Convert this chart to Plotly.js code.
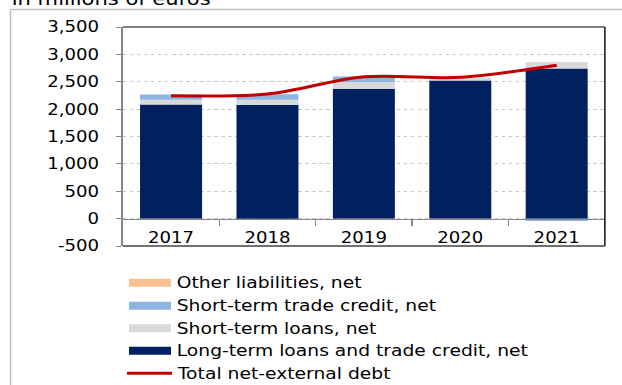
<!DOCTYPE html>
<html>
<head>
<meta charset="utf-8">
<script src="https://cdn.plot.ly/plotly-3.0.1.min.js"></script>
<style>
  html, body { margin:0; padding:0; overflow:hidden; background:#fff; }
  #chart { width:532px; height:385px; transform: scaleX(1.17); transform-origin: 0 0; }
</style>
</head>
<body>
<div id="chart"></div>
<script>
// ---- data ----
const years = ["2017", "2018", "2019", "2020", "2021"];
const longTerm = [2085, 2075, 2370, 2525, 2740];
const shortLoans = [85, 95, 125, 50, 120];
const tradeCredit = [95, 100, 100, 0, -45];
const otherLiab = [-15, 0, -15, -15, 0];
const totalDebt = [2245, 2275, 2590, 2580, 2800];
const yTickVals = [-500, 0, 500, 1000, 1500, 2000, 2500, 3000, 3500];
const yTickText = ["-500", "0", "500", "1,000", "1,500", "2,000", "2,500", "3,000", "3,500"];
const legendLabels = ["Other liabilities, net", "Short-term trade credit, net", "Short-term loans, net", "Long-term loans and trade credit, net", "Total net-external debt"];

const C = {navy:"#002060", grey:"#D9D9D9", blue:"#8DB4E2", orange:"#FAC090", red:"#C00000"};
const FONT = "DejaVu Sans";

const traces = [
  {type:"bar", x:years, y:longTerm, marker:{color:C.navy}, showlegend:false, hoverinfo:"skip"},
  {type:"bar", x:years, y:shortLoans, marker:{color:C.grey}, showlegend:false, hoverinfo:"skip"},
  {type:"bar", x:years, y:tradeCredit, marker:{color:C.blue}, showlegend:false, hoverinfo:"skip"},
  {type:"bar", x:years, y:otherLiab, marker:{color:C.orange}, showlegend:false, hoverinfo:"skip"},
  {type:"scatter", mode:"lines", x:years, y:totalDebt, line:{color:C.red, width:3, shape:"spline", smoothing:0.9}, showlegend:false, hoverinfo:"skip"}
];

// pixel -> paper helpers (S = horizontal stretch)
const S = 1.17, ML = 105, PW = 412, PT = 27, PH = 219;
const px = a => (a / S - ML) / PW;
const py = b => (PT + PH - b) / PH;

const shapes = [];
const annotations = [];
// outer frame
shapes.push({type:"line", xref:"paper", yref:"paper", x0:px(10), x1:px(640), y0:py(9.5), y1:py(9.5), line:{color:"#BFBFBF", width:1.5}});
shapes.push({type:"line", xref:"paper", yref:"paper", x0:px(10.5), x1:px(10.5), y0:py(9.5), y1:py(400), line:{color:"#BFBFBF", width:1.3}});
// plot box
shapes.push({type:"line", xref:"paper", yref:"paper", x0:0, x1:1, y0:1, y1:1, line:{color:"#595959", width:1.5}});
shapes.push({type:"line", xref:"paper", yref:"paper", x0:1, x1:1, y0:0, y1:1, line:{color:"#000000", width:1.2}});
shapes.push({type:"line", xref:"paper", yref:"paper", x0:0, x1:1, y0:0, y1:0, line:{color:"#404040", width:1.5}});

// legend (manual)
const rowsY = [282.7, 305.7, 328.3, 350.7, 373.3];
const swatchColors = [C.orange, C.blue, C.grey, C.navy];
swatchColors.forEach((col, i) => {
  shapes.push({type:"rect", xref:"paper", yref:"paper", x0:px(129), x1:px(171), y0:py(rowsY[i]-4), y1:py(rowsY[i]+4), fillcolor:col, line:{width:0}});
});
shapes.push({type:"line", xref:"paper", yref:"paper", x0:px(127), x1:px(172), y0:py(rowsY[4]), y1:py(rowsY[4]), line:{color:C.red, width:3}});
legendLabels.forEach((t, i) => {
  annotations.push({xref:"paper", yref:"paper", x:px(174), y:py(rowsY[i]), xanchor:"left", yanchor:"middle", text:t, showarrow:false, font:{family:FONT, size:16, color:"#000"}});
});
// title
annotations.push({xref:"paper", yref:"paper", x:px(9), y:py(-1.5), xanchor:"left", yanchor:"middle", text:"in millions of euros", showarrow:false, font:{family:FONT, size:18, color:"#000"}});

const layout = {
  width:532, height:385,
  margin:{l:ML, r:532-ML-PW, t:PT, b:385-PT-PH, pad:0},
  paper_bgcolor:"#fff", plot_bgcolor:"#fff",
  barmode:"relative", bargap:0.357,
  font:{family:FONT, size:15.5, color:"#000"},
  showlegend:false,
  xaxis:{type:"category", range:[-0.5, 4.5], anchor:"free", position:0.125,
    showline:true, linecolor:"#888", linewidth:1.2, ticks:"outside", tickson:"boundaries",
    ticklen:6, tickcolor:"#888", tickwidth:1, showgrid:false, zeroline:false,
    tickfont:{family:FONT, size:15.5, color:"#000"}, ticklabelstandoff:5},
  yaxis:{range:[-500, 3500], tickvals:yTickVals, ticktext:yTickText,
    showline:true, linecolor:"#888", linewidth:1.2, ticks:"outside", ticklen:5, tickcolor:"#888",
    showgrid:true, gridcolor:"#C8C8C8", griddash:"dot", gridwidth:1, zeroline:false,
    tickfont:{family:FONT, size:15.5, color:"#000"}, ticklabelstandoff:11},
  shapes:shapes, annotations:annotations
};

Plotly.newPlot("chart", traces, layout, {staticPlot:true, displayModeBar:false});
</script>
</body>
</html>
